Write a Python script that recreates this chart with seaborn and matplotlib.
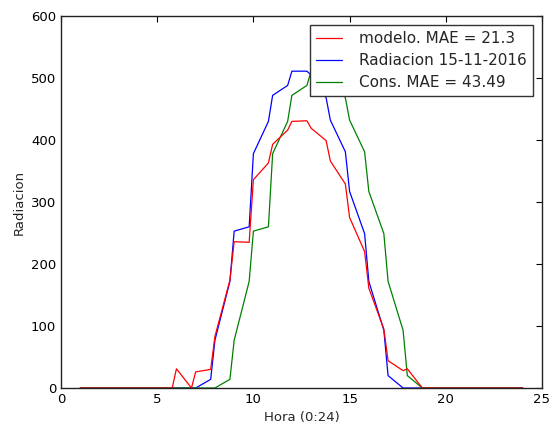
import matplotlib
matplotlib.use('Agg')
import matplotlib.pyplot as plt
import seaborn as sns
import pandas as pd

hora = [1, 1.78, 2, 2.78, 3, 3.78, 4, 4.78, 5, 5.78, 6, 6.78, 7, 7.78, 8, 8.78,
        9, 9.78, 10, 10.78, 11, 11.78, 12, 12.78, 13, 13.78, 14, 14.78, 15, 15.78,
        16, 16.78, 17, 17.78, 18, 18.78, 19, 19.78, 20, 20.78, 21, 21.78, 22, 22.78,
        23, 23.78, 24]
modelo = [0, 0, 0, 0, 0, 0, 0, 0, 0, 0, 31, 0, 26, 30, 83, 174, 236, 235, 336, 363,
          393, 416, 430, 431, 419, 399, 366, 329, 275, 220, 161, 95, 44, 28, 31, 0, 0, 0, 0, 0,
          0, 0, 0, 0, 0, 0, 0]
radiacion = [0, 0, 0, 0, 0, 0, 0, 0, 0, 0, 0, 0, 0, 14, 77, 172, 253, 260, 378, 430,
             472, 488, 511, 511, 505, 468, 432, 381, 317, 249, 172, 93, 20, 0, 0, 0, 0, 0, 0, 0,
             0, 0, 0, 0, 0, 0, 0]
cons = [0, 0, 0, 0, 0, 0, 0, 0, 0, 0, 0, 0, 0, 0, 0, 14, 77, 172, 253, 260,
        378, 430, 472, 488, 511, 511, 505, 468, 432, 381, 317, 249, 172, 93, 20, 0, 0, 0, 0, 0,
        0, 0, 0, 0, 0, 0, 0]

labels = ["modelo. MAE = 21.3", "Radiacion 15-11-2016", "Cons. MAE = 43.49"]

df = pd.DataFrame({"hora": hora, "modelo": modelo, "radiacion": radiacion, "cons": cons})

sns.set_style("white")
plt.rcParams['font.family'] = ['DejaVu Sans']

fig = plt.figure(figsize=(5.54, 4.30), dpi=100)
ax = fig.add_axes([61/554, 42/430, 481/554, 372/430])

lw = 0.9
sns.lineplot(data=df, x="hora", y="radiacion", color="#0000ff", lw=lw, ax=ax, label=labels[1])
sns.lineplot(data=df, x="hora", y="cons", color="#008000", lw=lw, ax=ax, label=labels[2])
sns.lineplot(data=df, x="hora", y="modelo", color="#ff0000", lw=lw, ax=ax, label=labels[0])

ax.set_xlim(0, 25)
ax.set_ylim(0, 600)
ax.set_xticks([0, 5, 10, 15, 20, 25])
ax.set_yticks([0, 100, 200, 300, 400, 500, 600])
ax.set_xlabel("Hora (0:24)", fontsize=9.5)
ax.set_ylabel("Radiacion", fontsize=9.5)
ax.tick_params(direction='in', length=4, width=0.8, labelsize=9.5, top=True, right=True, colors='black')
for s in ax.spines.values():
    s.set_color('#222222')
    s.set_linewidth(1.0)

h, l = ax.get_legend_handles_labels()
order = [l.index(t) for t in labels]
leg = ax.legend([h[i] for i in order], [l[i] for i in order], loc='upper right',
                fontsize=11, frameon=True, fancybox=False, edgecolor='#333333',
                framealpha=1.0, facecolor='white',
                handlelength=1.7, handletextpad=1.1, borderpad=0.4, labelspacing=0.45,
                borderaxespad=0.6)
leg.get_frame().set_linewidth(1.0)

fig.savefig("out.png", dpi=100)
